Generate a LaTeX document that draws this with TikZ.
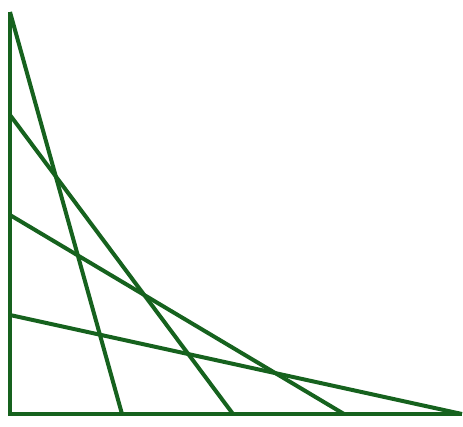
\documentclass[tikz,border=0pt]{standalone}
\definecolor{lg}{RGB}{22,98,30}
\begin{document}
\begin{tikzpicture}[x=1pt,y=-1pt,ln/.style={draw=lg,line width=4pt,line cap=butt}]
\useasboundingbox (0,0) rectangle (463,426);
\coordinate (O) at (10,414);
\coordinate (T) at (10,12);
\coordinate (A1) at (10,115);
\coordinate (A2) at (10,215);
\coordinate (A3) at (10,315);
\coordinate (B0) at (122,414);
\coordinate (B1) at (233,414);
\coordinate (B2) at (344,414);
\coordinate (B3) at (462,414);
\draw[ln] (T) -- (O) -- (B3);
\draw[ln] (T) -- (B0);
\draw[ln] (A1) -- (B1);
\draw[ln] (A2) -- (B2);
\draw[ln] (A3) -- (B3);
\end{tikzpicture}
\end{document}
